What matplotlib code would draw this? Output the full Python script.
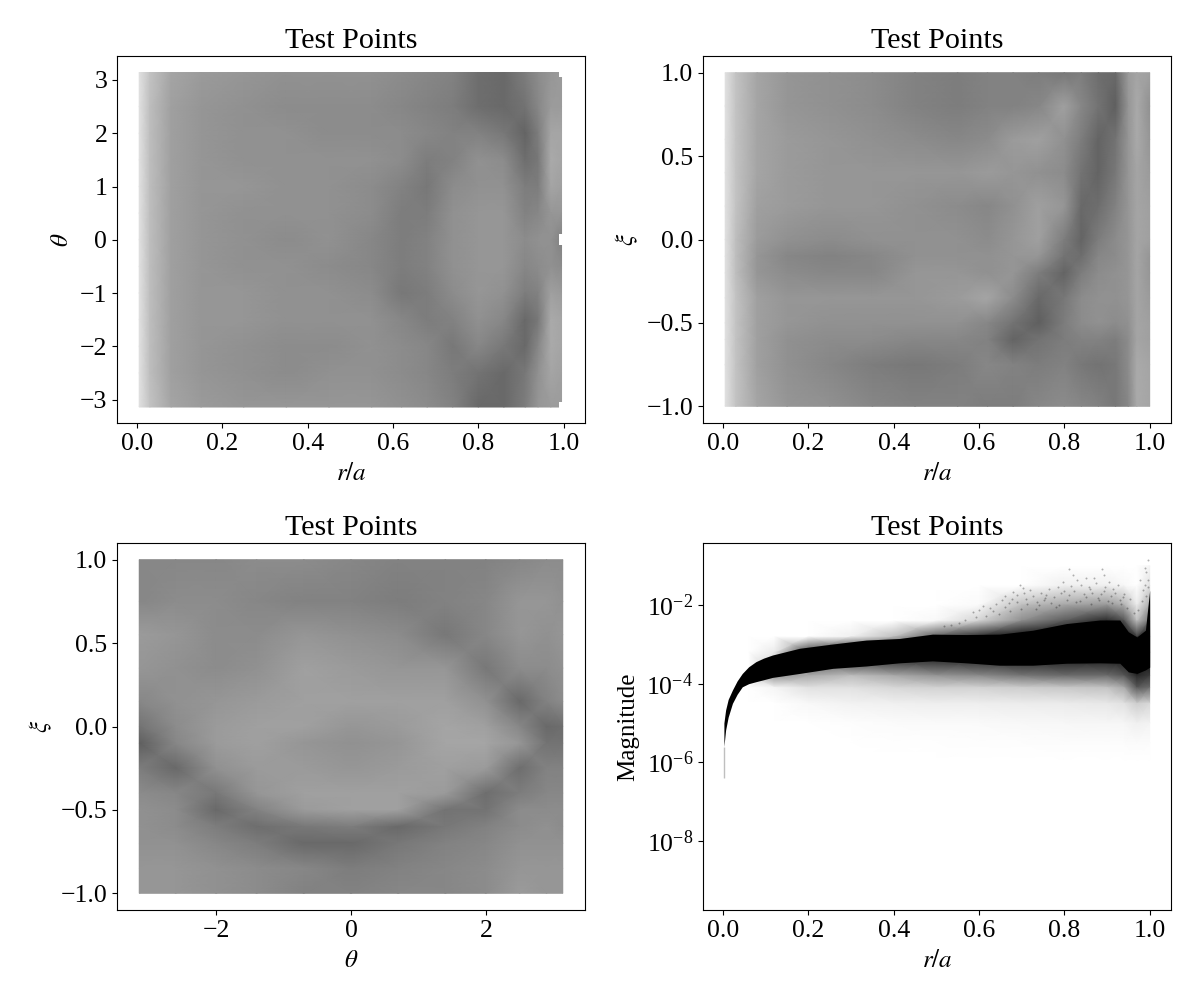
from __future__ import annotations

import matplotlib

matplotlib.use("Agg")
import matplotlib.pyplot as plt
import numpy as np
from matplotlib.patches import Rectangle
from matplotlib.ticker import NullLocator


# gray levels of the point clouds, 0 black .. 255 white
R_THETA_COLS = [0.005, 0.03, 0.08, 0.15, 0.25, 0.35, 0.45, 0.55, 0.62, 0.68, 0.74, 0.80, 0.86, 0.91, 0.94, 0.97, 0.995]
THETA_ROWS = [3.14, 2.5, 2.0, 1.5, 1.0, 0.5, 0.0, -0.5, -1.0, -1.5, -2.0, -2.5, -3.14]
GRAY_R_THETA = [
    [225, 195, 165, 155, 150, 145, 145, 145, 140, 135, 130, 110, 105, 125, 140, 150, 155],
    [225, 190, 160, 150, 145, 140, 140, 140, 135, 130, 125, 110, 105, 115, 135, 155, 155],
    [225, 190, 160, 150, 145, 145, 140, 140, 140, 135, 130, 130, 120, 100, 125, 165, 165],
    [225, 190, 160, 150, 145, 145, 145, 145, 140, 125, 130, 145, 140, 110, 120, 170, 165],
    [225, 190, 160, 150, 150, 145, 145, 140, 130, 120, 140, 145, 145, 125, 125, 165, 160],
    [225, 190, 160, 150, 145, 145, 145, 140, 125, 125, 145, 150, 150, 130, 135, 150, 150],
    [225, 190, 160, 150, 145, 140, 145, 135, 125, 130, 145, 150, 150, 140, 145, 145, 130],
    [225, 190, 160, 150, 145, 145, 140, 135, 125, 130, 145, 150, 150, 135, 140, 145, 140],
    [225, 190, 160, 150, 150, 145, 145, 140, 120, 125, 140, 150, 145, 125, 130, 160, 155],
    [225, 190, 160, 150, 150, 145, 145, 145, 135, 125, 130, 145, 135, 105, 120, 170, 165],
    [225, 190, 160, 150, 145, 140, 140, 145, 140, 135, 120, 135, 120, 105, 135, 170, 165],
    [225, 190, 160, 150, 145, 140, 145, 145, 140, 135, 125, 115, 105, 120, 145, 165, 160],
    [225, 195, 165, 155, 150, 150, 150, 150, 145, 140, 130, 105, 105, 125, 150, 155, 155],
]

R_XI_COLS = [0.005, 0.03, 0.08, 0.15, 0.25, 0.35, 0.45, 0.55, 0.62, 0.68, 0.74, 0.80, 0.84, 0.88, 0.92, 0.95, 0.97, 1.0]
XI_ROWS = [1.0, 0.8, 0.6, 0.4, 0.2, 0.0, -0.1, -0.2, -0.35, -0.5, -0.6, -0.75, -1.0]
GRAY_R_XI = [
    [225, 195, 165, 150, 145, 140, 130, 125, 130, 130, 125, 120, 125, 110, 105, 155, 165, 160],
    [225, 195, 165, 150, 145, 140, 130, 125, 130, 130, 135, 160, 135, 115, 95, 150, 170, 145],
    [225, 195, 165, 155, 150, 145, 140, 135, 140, 155, 160, 145, 125, 100, 115, 150, 170, 150],
    [225, 195, 165, 155, 150, 150, 150, 150, 155, 150, 145, 140, 115, 100, 120, 150, 165, 155],
    [225, 195, 160, 155, 150, 150, 145, 140, 135, 145, 160, 150, 105, 110, 130, 150, 165, 160],
    [225, 190, 155, 145, 140, 145, 145, 145, 140, 150, 160, 125, 100, 125, 140, 150, 165, 160],
    [225, 190, 150, 135, 130, 135, 145, 145, 145, 150, 150, 115, 110, 135, 140, 150, 165, 150],
    [225, 190, 150, 140, 135, 135, 150, 150, 145, 150, 125, 100, 125, 140, 145, 150, 165, 150],
    [225, 195, 160, 150, 150, 150, 150, 155, 165, 140, 105, 120, 140, 145, 145, 150, 165, 155],
    [225, 195, 160, 150, 145, 145, 145, 145, 135, 115, 95, 125, 140, 145, 140, 145, 165, 160],
    [225, 195, 160, 145, 140, 140, 135, 135, 130, 100, 115, 125, 130, 130, 125, 140, 165, 160],
    [225, 195, 160, 145, 135, 125, 120, 125, 135, 130, 125, 130, 120, 115, 120, 140, 170, 165],
    [225, 195, 165, 150, 145, 135, 130, 130, 125, 125, 135, 140, 135, 130, 120, 135, 170, 165],
]

THETA_COLS = [-3.14, -2.6, -2.0, -1.4, -0.7, 0.0, 0.7, 1.4, 2.0, 2.5, 2.9, 3.14]
XI_ROWS_2 = [1.0, 0.75, 0.55, 0.35, 0.15, 0.0, -0.1, -0.25, -0.4, -0.5, -0.6, -0.7, -0.85, -1.0]
GRAY_THETA_XI = [
    [135, 135, 135, 140, 140, 135, 130, 130, 130, 135, 140, 140],
    [135, 140, 140, 135, 130, 130, 125, 130, 135, 150, 150, 145],
    [155, 150, 140, 140, 150, 145, 140, 120, 135, 150, 145, 150],
    [150, 145, 140, 145, 160, 155, 150, 150, 120, 140, 140, 145],
    [135, 145, 150, 155, 160, 160, 160, 160, 145, 105, 130, 140],
    [115, 140, 155, 160, 160, 150, 155, 165, 160, 135, 105, 110],
    [95, 135, 155, 160, 150, 145, 150, 165, 165, 150, 115, 115],
    [125, 105, 145, 155, 155, 150, 155, 160, 155, 110, 130, 130],
    [140, 135, 120, 150, 160, 160, 160, 155, 110, 125, 135, 135],
    [145, 140, 105, 130, 155, 160, 160, 115, 115, 140, 140, 140],
    [145, 140, 125, 110, 120, 125, 105, 120, 130, 140, 145, 140],
    [145, 145, 135, 125, 105, 105, 120, 130, 135, 145, 145, 145],
    [150, 150, 145, 140, 135, 125, 130, 135, 140, 150, 150, 150],
    [150, 150, 145, 140, 130, 130, 135, 135, 140, 155, 150, 150],
]

# magnitude panel: solid band, haze around it, and the lone points above it
BAND_R = [0.002, 0.006, 0.012, 0.022, 0.033, 0.045, 0.06, 0.077, 0.095, 0.116, 0.179, 0.257, 0.335, 0.413, 0.491, 0.57, 0.648, 0.726, 0.805, 0.883, 0.93, 0.95, 0.97, 0.99, 1.0]
BAND_TOP = [-5.0, -4.67, -4.4, -4.16, -3.93, -3.74, -3.57, -3.44, -3.35, -3.27, -3.10, -2.99, -2.89, -2.85, -2.74, -2.75, -2.74, -2.64, -2.47, -2.38, -2.38, -2.68, -2.81, -2.64, -1.62]
BAND_BOTTOM = [-5.6, -5.18, -4.85, -4.5, -4.27, -4.08, -4.0, -3.95, -3.9, -3.84, -3.74, -3.61, -3.55, -3.47, -3.42, -3.47, -3.53, -3.53, -3.48, -3.47, -3.48, -3.70, -3.74, -3.65, -3.58]

HAZE_R = [0.02, 0.06, 0.12, 0.2, 0.3, 0.4, 0.5, 0.6, 0.7, 0.8, 0.9, 0.94, 0.97, 1.0]
HAZE_LOG = [-1.0, -1.5, -2.0, -2.4, -2.8, -3.2, -3.8, -4.1, -4.5, -5.0, -5.5, -6.0]
HAZE_GRAY = [
    [255, 255, 255, 255, 255, 255, 255, 255, 255, 255, 255, 255, 255, 245],
    [255, 255, 255, 255, 255, 255, 255, 255, 255, 240, 240, 248, 255, 225],
    [255, 255, 255, 255, 255, 255, 255, 250, 190, 165, 150, 175, 235, 170],
    [255, 255, 255, 255, 255, 255, 248, 210, 140, 90, 40, 80, 190, 110],
    [255, 255, 255, 255, 240, 190, 90, 40, 10, 0, 0, 0, 60, 0],
    [255, 255, 235, 60, 0, 0, 0, 0, 0, 0, 0, 0, 0, 0],
    [255, 255, 150, 170, 190, 170, 150, 140, 120, 110, 110, 90, 40, 60],
    [255, 255, 245, 225, 225, 215, 210, 210, 205, 200, 195, 170, 90, 110],
    [255, 255, 255, 248, 242, 240, 238, 238, 236, 235, 232, 225, 205, 215],
    [255, 255, 255, 255, 253, 251, 250, 250, 248, 247, 246, 246, 240, 243],
    [255, 255, 255, 255, 255, 254, 254, 253, 253, 252, 252, 252, 251, 252],
    [255, 255, 255, 255, 255, 255, 255, 255, 255, 255, 255, 255, 255, 255],
]

OUTLIER_R = [0.812, 0.889, 0.82, 0.894, 0.996, 0.988, 0.996, 0.988, 0.695, 0.703, 0.679, 0.797, 0.83, 0.85, 0.87, 0.905, 0.925,
             0.66, 0.655, 0.64, 0.69, 0.72, 0.745, 0.765, 0.785, 0.80, 0.815, 0.84, 0.86, 0.875, 0.895, 0.915, 0.94, 0.955,
             0.61, 0.60, 0.585, 0.625, 0.67, 0.71, 0.735, 0.755, 0.775, 0.81, 0.845, 0.865, 0.885, 0.91, 0.93, 0.985, 0.992,
             0.648, 0.662, 0.677, 0.688, 0.698, 0.712, 0.727, 0.741, 0.752, 0.768, 0.781, 0.793, 0.806, 0.822, 0.836, 0.851,
             0.863, 0.878, 0.892, 0.903, 0.918, 0.933, 0.947, 0.672, 0.706, 0.733, 0.758, 0.788, 0.827, 0.857, 0.882, 0.912,
             0.938, 0.978, 0.983, 0.991, 0.997, 0.972, 0.963, 0.568, 0.552, 0.534, 0.517, 0.594, 0.616, 0.632]
OUTLIER_LOG = [-1.07, -1.07, -1.24, -1.24, -0.86, -1.05, -1.37, -1.49, -1.49, -1.57, -1.66, -1.40, -1.35, -1.32, -1.30, -1.42, -1.50,
               -1.78, -1.88, -1.98, -1.75, -1.62, -1.70, -1.60, -1.55, -1.65, -1.52, -1.48, -1.58, -1.45, -1.55, -1.60, -1.72, -1.85,
               -2.02, -2.12, -2.18, -2.08, -1.95, -1.85, -1.92, -1.82, -1.80, -1.75, -1.72, -1.68, -1.72, -1.78, -1.88, -1.62, -1.78,
               -2.22, -2.05, -1.84, -1.93, -2.11, -1.97, -1.76, -2.01, -1.88, -1.94, -2.06, -1.69, -1.86, -1.63, -1.9, -1.79,
               -1.96, -1.83, -1.64, -1.9, -1.7, -1.98, -2.07, -2.16, -1.68, -2.09, -1.74, -1.99, -1.92, -1.55, -1.87, -1.95,
               -1.8, -1.35, -1.9, -1.16, -1.55, -2.12, -2.2, -2.38, -2.45, -2.5, -2.52, -2.3, -2.27, -2.15]

TITLE = "Test Points"
R_TICKS = [0.0, 0.2, 0.4, 0.6, 0.8, 1.0]
THETA_TICKS_Y = [-3, -2, -1, 0, 1, 2, 3]
THETA_TICKS_X = [-2, 0, 2]
XI_TICKS = [-1.0, -0.5, 0.0, 0.5, 1.0]
MAG_TICKS = [1e-8, 1e-6, 1e-4, 1e-2]

plt.rcParams["font.family"] = ["Liberation Serif", "DejaVu Serif"]
plt.rcParams["mathtext.fontset"] = "stix"


def _frame(fig, left, top, xlabel, ylabel):
    # pixel box of the reference, figure is 1200x1000
    ax = fig.add_axes([left / 1200, 1 - (top + 367) / 1000, 468 / 1200, 367 / 1000])
    ax.set_title(TITLE, fontsize=21.7, pad=6)
    ax.set_xlabel(xlabel, fontsize=18, labelpad=6)
    ax.set_ylabel(ylabel, fontsize=18, labelpad=5)
    ax.tick_params(labelsize=18.5)
    return ax


def _cloud(ax, xs, ys, gray):
    ax.pcolormesh(xs, ys, np.array(gray, dtype=float), shading="gouraud", cmap="gray", vmin=0, vmax=255, rasterized=True)


fig = plt.figure(figsize=(12, 10), dpi=100)
fig.patch.set_facecolor("white")

ax = _frame(fig, 117, 56, "$r/a$", r"$\theta$")
_cloud(ax, R_THETA_COLS, THETA_ROWS, GRAY_R_THETA)
# the cloud stops short of the wall at the corners and around theta = 0
for notch_y, notch_h in [(3.05, 0.1), (-3.15, 0.1), (-0.1, 0.2)]:
    ax.add_patch(Rectangle((0.988, notch_y), 0.01, notch_h, facecolor="white", edgecolor="none"))
ax.set_xlim(-0.047, 1.05)
ax.set_ylim(-3.44, 3.45)
ax.set_xticks(R_TICKS)
ax.set_yticks(THETA_TICKS_Y)

ax = _frame(fig, 703, 56, "$r/a$", r"$\xi$")
_cloud(ax, R_XI_COLS, XI_ROWS, GRAY_R_XI)
ax.set_xlim(-0.047, 1.05)
ax.set_ylim(-1.1, 1.1)
ax.set_xticks(R_TICKS)
ax.set_yticks(XI_TICKS)

ax = _frame(fig, 117, 543, r"$\theta$", r"$\xi$")
_cloud(ax, THETA_COLS, XI_ROWS_2, GRAY_THETA_XI)
ax.set_xlim(-3.47, 3.47)
ax.set_ylim(-1.1, 1.1)
ax.set_xticks(THETA_TICKS_X)
ax.set_yticks(XI_TICKS)

ax = _frame(fig, 703, 543, "$r/a$", "Magnitude")
ax.set_yscale("log")
_cloud(ax, HAZE_R, 10.0 ** np.array(HAZE_LOG), HAZE_GRAY)
ax.fill_between(BAND_R, 10.0 ** np.array(BAND_BOTTOM), 10.0 ** np.array(BAND_TOP), color="black", linewidth=0)
ax.vlines(BAND_R[0], 10.0 ** -6.4, 10.0 ** BAND_BOTTOM[0], color="black", alpha=0.25, linewidth=1)
ax.scatter(OUTLIER_R, 10.0 ** np.array(OUTLIER_LOG), s=2, color="black", alpha=0.3, linewidths=0)
ax.set_xlim(-0.047, 1.05)
ax.set_ylim(10.0 ** -9.76, 10.0 ** -0.42)
ax.set_xticks(R_TICKS)
ax.set_yticks(MAG_TICKS)
ax.yaxis.set_minor_locator(NullLocator())

fig.savefig("out.png", dpi=100)
